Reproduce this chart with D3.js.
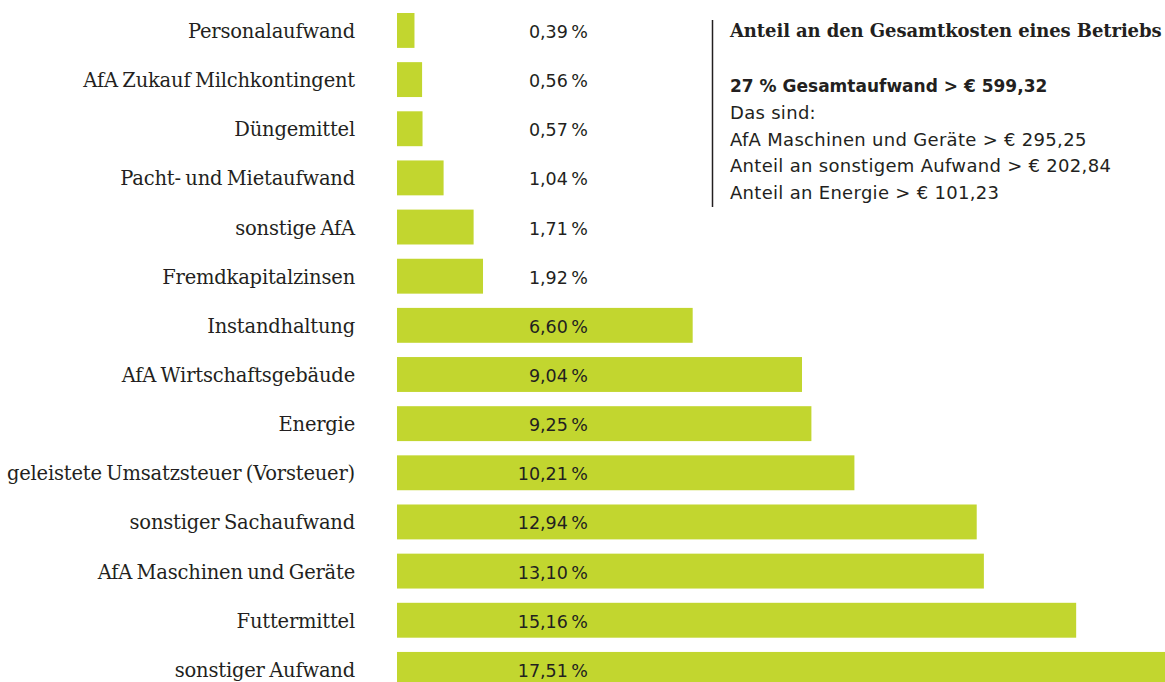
<!DOCTYPE html>
<html>
<head>
<meta charset="utf-8">
<script src="https://cdn.jsdelivr.net/npm/d3@7"></script>
<style>
  body { margin: 0; background: #fff; }
  svg { display: block; }
</style>
</head>
<body>
<div id="chart"></div>
<script>
const categories = [
  "Personalaufwand",
  "AfA Zukauf Milchkontingent",
  "Düngemittel",
  "Pacht- und Mietaufwand",
  "sonstige AfA",
  "Fremdkapitalzinsen",
  "Instandhaltung",
  "AfA Wirtschaftsgebäude",
  "Energie",
  "geleistete Umsatzsteuer (Vorsteuer)",
  "sonstiger Sachaufwand",
  "AfA Maschinen und Geräte",
  "Futtermittel",
  "sonstiger Aufwand"
];
const values = [0.39, 0.56, 0.57, 1.04, 1.71, 1.92, 6.60, 9.04, 9.25, 10.21, 12.94, 13.10, 15.16, 17.51];

const noteTitle = "Anteil an den Gesamtkosten eines Betriebs";
const noteHead = "27 % Gesamtaufwand > € 599,32";
const noteLines = [
  "Das sind:",
  "AfA Maschinen und Geräte > € 295,25",
  "Anteil an sonstigem Aufwand > € 202,84",
  "Anteil an Energie > € 101,23"
];

const width = 1165, height = 682;
const barColor = "#c2d62f";
const textColor = "#231f20";

const svg = d3.select("#chart").append("svg")
  .attr("width", width)
  .attr("height", height);

const step = 49.15;
const y = d3.scaleBand()
  .domain(categories)
  .range([5.87, 5.87 + step * categories.length])
  .paddingInner(0.29)
  .paddingOuter(0.145);

const x = d3.scaleLinear()
  .domain([0, 17.51])
  .range([397, 397 + 44.8 * 17.51]);

const fmt = v => v.toFixed(2).replace(".", ",") + "\u2009%";

// bars
svg.append("g")
  .selectAll("rect")
  .data(values)
  .join("rect")
  .attr("x", x(0))
  .attr("y", (d, i) => y(categories[i]))
  .attr("width", d => x(d) - x(0))
  .attr("height", y.bandwidth())
  .attr("fill", barColor);

// category labels
svg.append("g")
  .selectAll("text")
  .data(categories)
  .join("text")
  .attr("x", 355)
  .attr("y", d => y(d) + y.bandwidth() / 2 + 7.5)
  .attr("text-anchor", "end")
  .attr("font-family", "'DejaVu Serif', serif")
  .attr("font-size", 19.5)
  .attr("letter-spacing", -0.2)
  .attr("word-spacing", -1.5)
  .attr("fill", textColor)
  .text(d => d);

// value labels
svg.append("g")
  .selectAll("text")
  .data(values)
  .join("text")
  .attr("x", 588)
  .attr("y", (d, i) => y(categories[i]) + y.bandwidth() / 2 + 7.5)
  .attr("text-anchor", "end")
  .attr("font-family", "'DejaVu Sans', sans-serif")
  .attr("font-size", 17.5)
  .attr("fill", textColor)
  .text(d => fmt(d));

// note box
const note = svg.append("g");
note.append("line")
  .attr("x1", 712.5).attr("x2", 712.5)
  .attr("y1", 20).attr("y2", 207)
  .attr("stroke", textColor)
  .attr("stroke-width", 1.5);

note.append("text")
  .attr("x", 730)
  .attr("y", 37)
  .attr("font-family", "'DejaVu Serif', serif")
  .attr("font-weight", "bold")
  .attr("font-size", 18)
  .attr("letter-spacing", -0.1)
  .attr("fill", textColor)
  .text(noteTitle);

note.append("text")
  .attr("x", 730)
  .attr("y", 92)
  .attr("font-family", "'DejaVu Sans', sans-serif")
  .attr("font-weight", "bold")
  .attr("font-size", 17)
  .attr("fill", textColor)
  .text(noteHead);

note.selectAll("text.line")
  .data(noteLines)
  .join("text")
  .attr("class", "line")
  .attr("x", 730)
  .attr("y", (d, i) => 119 + i * 26.5)
  .attr("font-family", "'DejaVu Sans', sans-serif")
  .attr("font-size", 18)
  .attr("letter-spacing", 0.3)
  .attr("fill", textColor)
  .text(d => d);
</script>
</body>
</html>
